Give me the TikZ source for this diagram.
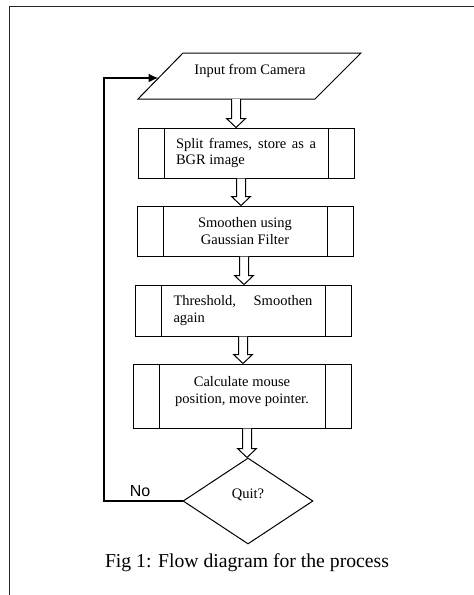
\documentclass[tikz,border=0pt]{standalone}
\usepackage{fontspec}
\setmainfont{Liberation Serif}
\newfontfamily\arialfont{Liberation Sans}
\usetikzlibrary{calc,arrows.meta,shapes.geometric}
\newcommand\boxfont{\fontsize{14.5}{16.5}\selectfont}
\newcommand\hollowarrow[2]{%
  \draw[line width=1pt, fill=white] let \p1=(#1), \p2=(#2) in
    (\x1-4.5pt,\y1) -- (\x1-4.5pt,\y2+9pt) -- (\x1-9.5pt,\y2+9pt) -- (\x1,\y2)
    -- (\x1+9.5pt,\y2+9pt) -- (\x1+4.5pt,\y2+9pt) -- (\x1+4.5pt,\y1);}
\begin{document}
\begin{tikzpicture}[x=1pt,y=-1pt,
  proc/.style={draw, line width=1pt, minimum width=216pt, minimum height=50pt, inner sep=0pt, font=\boxfont},
  fb/.style={line width=2pt, -{Latex[length=10pt,width=9pt]}},
  frame/.style={line width=1pt, black!85}]
\useasboundingbox (0,0) rectangle (474,595);
% outer frame
\draw[frame] (9,595) -- (9,6) -- (474,6);
% input parallelogram
\coordinate (p1) at (138,99);
\coordinate (p2) at (183,53);
\coordinate (p3) at (361,53);
\coordinate (p4) at (315,99);
\draw[line width=1pt] (p1) -- (p2) -- (p3) -- (p4) -- cycle;
\node[font=\boxfont] (inp) at (250,71) {Input from Camera};
% process boxes
\node[proc, text width=140pt, align=justify] (b1) at (246,153) {Split frames, store as a\linebreak BGR image};
\node[proc, align=center] (b2) at (245,231) {Smoothen using\\Gaussian Filter};
\node[proc, minimum height=51pt, text width=139pt, align=justify] (b3) at (243,310.5) {Threshold,\hfill Smoothen\linebreak again};
\node[proc, minimum width=218pt, minimum height=64pt, align=center] (b4) at (242,396) {Calculate mouse\\position, move pointer.\\[-4.5pt]\mbox{}};
\foreach \b in {b1,b2,b3,b4}{
  \draw[line width=1pt] ([xshift=27pt]\b.north west) -- ([xshift=27pt]\b.south west);
  \draw[line width=1pt] ([xshift=-26pt]\b.north east) -- ([xshift=-26pt]\b.south east);
}
% decision
\node[draw, diamond, line width=1pt, minimum width=130pt, minimum height=86pt, inner sep=0pt] (quit) at (248,501) {};
\node[font=\boxfont] (qtext) at (248,495) {Quit?};
% hollow arrows
\hollowarrow{$(p1)!0.554!(p4)$}{b1.north}
\hollowarrow{[xshift=-5pt]b1.south}{b2.north}
\hollowarrow{[xshift=-1pt]b2.south}{b3.north}
\hollowarrow{b3.south}{b4.north}
\hollowarrow{[xshift=5pt]b4.south}{quit.north}
% feedback loop
\coordinate (fbx) at (104,0);
\coordinate (pin) at ($(p1)!0.457!(p2)$);
\draw[fb] (quit.west) -- (quit.west -| fbx) |- (pin);
\node[font=\arialfont\fontsize{16}{18}\selectfont] (no) at (140,491) {No};
% caption
\node[font=\fontsize{19.7}{22}\selectfont] (cap) at (247,563) {Fig 1: Flow diagram for the process};
\end{tikzpicture}
\end{document}
